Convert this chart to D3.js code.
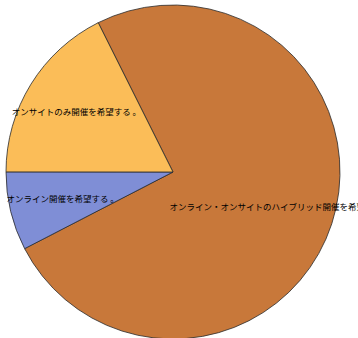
<!DOCTYPE html>
<html>
<head>
<meta charset="utf-8">
<script src="https://cdn.jsdelivr.net/npm/d3@7"></script>
<style>
  html, body { margin: 0; padding: 0; background: #fff; }
  svg { display: block; }
</style>
</head>
<body>
<svg id="chart" width="358" height="338"></svg>
<script>
// Survey answers on preferred event format
const categories = [
  "オンライン・オンサイトのハイブリッド開催を希望する 。",
  "オンライン開催を希望する 。",
  "オンサイトのみ開催を希望する 。"
];
const values = [74.8, 7.6, 17.6];
const colors = ["#c8783a", "#7f8ed6", "#fbbd58"];

const svg = d3.select("#chart");
const cx = 173, cy = 172, radius = 167;

const start = -26.6 * Math.PI / 180;
const pie = d3.pie().sort(null).startAngle(start).endAngle(start + 2 * Math.PI);
const arcs = pie(values);

const arc = d3.arc().innerRadius(0).outerRadius(radius);
const labelArc = d3.arc().innerRadius(radius * 0.68).outerRadius(radius * 0.68);

const g = svg.append("g").attr("transform", `translate(${cx},${cy})`);

g.selectAll("path.slice")
  .data(arcs)
  .enter().append("path")
  .attr("class", "slice")
  .attr("d", arc)
  .attr("fill", (d, i) => colors[i])
  .attr("stroke", "#2a2a2a")
  .attr("stroke-width", 0.8)
  .attr("stroke-linejoin", "round");

g.selectAll("text.label")
  .data(arcs)
  .enter().append("text")
  .attr("class", "label")
  .attr("transform", d => `translate(${labelArc.centroid(d)})`)
  .attr("text-anchor", "middle")
  .attr("dy", "0.35em")
  .attr("font-family", "'Noto Sans CJK JP', sans-serif")
  .attr("font-size", 8.5)
  .attr("fill", "#000")
  .text((d, i) => categories[i]);
</script>
</body>
</html>
